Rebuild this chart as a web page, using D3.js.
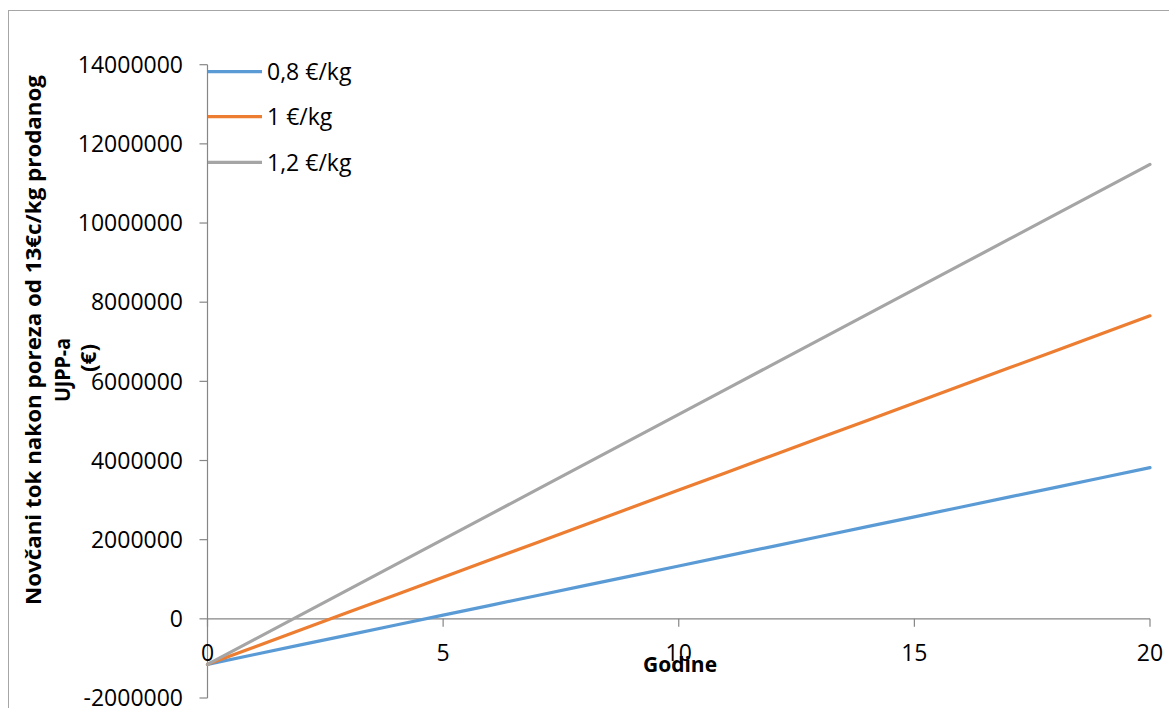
<!DOCTYPE html>
<html>
<head>
<meta charset="utf-8">
<script src="https://cdn.jsdelivr.net/npm/d3@7"></script>
<style>
  html, body { margin: 0; padding: 0; background: #fff; }
  svg { display: block; }
  text { font-family: "Open Sans", "Noto Sans", sans-serif; fill: #000; }
</style>
</head>
<body>
<svg id="chart" width="1169" height="708"></svg>
<script>
// ---- data ----
const years = [0,1,2,3,4,5,6,7,8,9,10,11,12,13,14,15,16,17,18,19,20];
const seriesNames = ["0,8 €/kg", "1 €/kg", "1,2 €/kg"];
const seriesColors = ["#5b9bd5", "#ed7d31", "#a5a5a5"];
const values08 = [-1150000,-901500,-653000,-404500,-156000,92500,341000,589500,838000,1086500,1335000,1583500,1832000,2080500,2329000,2577500,2826000,3074500,3323000,3571500,3820000];
const values10 = [-1150000,-709750,-269500,170750,611000,1051250,1491500,1931750,2372000,2812250,3252500,3692750,4133000,4573250,5013500,5453750,5894000,6334250,6774500,7214750,7655000];
const values12 = [-1150000,-518500,113000,744500,1376000,2007500,2639000,3270500,3902000,4533500,5165000,5796500,6428000,7059500,7691000,8322500,8954000,9585500,10217000,10848500,11480000];
const xTicks = [0,5,10,15,20];
const yTicks = [-2000000,0,2000000,4000000,6000000,8000000,10000000,12000000,14000000];
const xTitle = "Godine";
const yTitleLines = ["Novčani tok nakon poreza od 13€c/kg prodanog", "UJPP-a", "(€)"];

const seriesValues = [values08, values10, values12];

const svg = d3.select("#chart");
const axisColor = "#868686";

// outer chart border
svg.append("rect")
  .attr("x", 8.5).attr("y", 10.5)
  .attr("width", 1200).attr("height", 760)
  .attr("fill", "none").attr("stroke", "#a6a6a6").attr("stroke-width", 1);

const x = d3.scaleLinear().domain([0, 20]).range([207.5, 1150]);
const y = d3.scaleLinear().domain([-2000000, 14000000]).range([698, 64.7]);

// y axis line
svg.append("line")
  .attr("x1", x(0)).attr("x2", x(0))
  .attr("y1", y(14000000)).attr("y2", y(-2000000))
  .attr("stroke", axisColor).attr("stroke-width", 1.2);
// y ticks
svg.selectAll(".ytick").data(yTicks).enter().append("line")
  .attr("x1", x(0) - 8).attr("x2", x(0))
  .attr("y1", d => y(d)).attr("y2", d => y(d))
  .attr("stroke", axisColor).attr("stroke-width", 1.2);
svg.selectAll(".ylab").data(yTicks).enter().append("text")
  .attr("x", 183).attr("y", d => y(d)).attr("dy", "0.36em")
  .attr("text-anchor", "end").style("font-size", "23px")
  .text(d => String(d));

// x axis (at y = 0)
svg.append("line")
  .attr("x1", x(0)).attr("x2", x(20))
  .attr("y1", y(0)).attr("y2", y(0))
  .attr("stroke", axisColor).attr("stroke-width", 1.2);
svg.selectAll(".xtick").data(xTicks).enter().append("line")
  .attr("x1", d => x(d)).attr("x2", d => x(d))
  .attr("y1", y(0)).attr("y2", y(0) + 8)
  .attr("stroke", axisColor).attr("stroke-width", 1.2);

// series lines
const line = d3.line().x((d, i) => x(years[i])).y(d => y(d));
seriesValues.forEach((vals, k) => {
  svg.append("path")
    .attr("d", line(vals))
    .attr("fill", "none")
    .attr("stroke", seriesColors[k])
    .attr("stroke-width", 3.2)
    .attr("stroke-linecap", "round");
});

// x tick labels (drawn on top, like reference)
svg.selectAll(".xlab").data(xTicks).enter().append("text")
  .attr("x", d => x(d)).attr("y", 653).attr("dy", "0.36em")
  .attr("text-anchor", "middle").style("font-size", "23px")
  .text(d => String(d));

// x title
svg.append("text")
  .attr("x", 680).attr("y", 664).attr("dy", "0.36em")
  .attr("text-anchor", "middle")
  .style("font-size", "21px").style("font-weight", "bold")
  .text(xTitle);

// y title (rotated, 3 lines)
const yTitlePos = [{cx: 33, cy: 340, len: 530}, {cx: 62, cy: 370, len: 64}, {cx: 88, cy: 358, len: 28}];
yTitleLines.forEach((t, i) => {
  const p = yTitlePos[i];
  svg.append("text")
    .attr("transform", `translate(${p.cx},${p.cy}) rotate(-90)`)
    .attr("x", 0).attr("y", 0).attr("dy", "0.36em")
    .attr("text-anchor", "middle")
    .attr("textLength", p.len).attr("lengthAdjust", "spacingAndGlyphs")
    .style("font-size", "21px").style("font-weight", "bold")
    .text(t);
});

// legend
const legendY = [71.7, 116.7, 162.3];
seriesNames.forEach((name, k) => {
  svg.append("line")
    .attr("x1", 208).attr("x2", 262)
    .attr("y1", legendY[k]).attr("y2", legendY[k])
    .attr("stroke", seriesColors[k]).attr("stroke-width", 3.2);
  svg.append("text")
    .attr("x", 267).attr("y", legendY[k]).attr("dy", "0.36em")
    .style("font-size", "23px")
    .text(name);
});
</script>
</body>
</html>
